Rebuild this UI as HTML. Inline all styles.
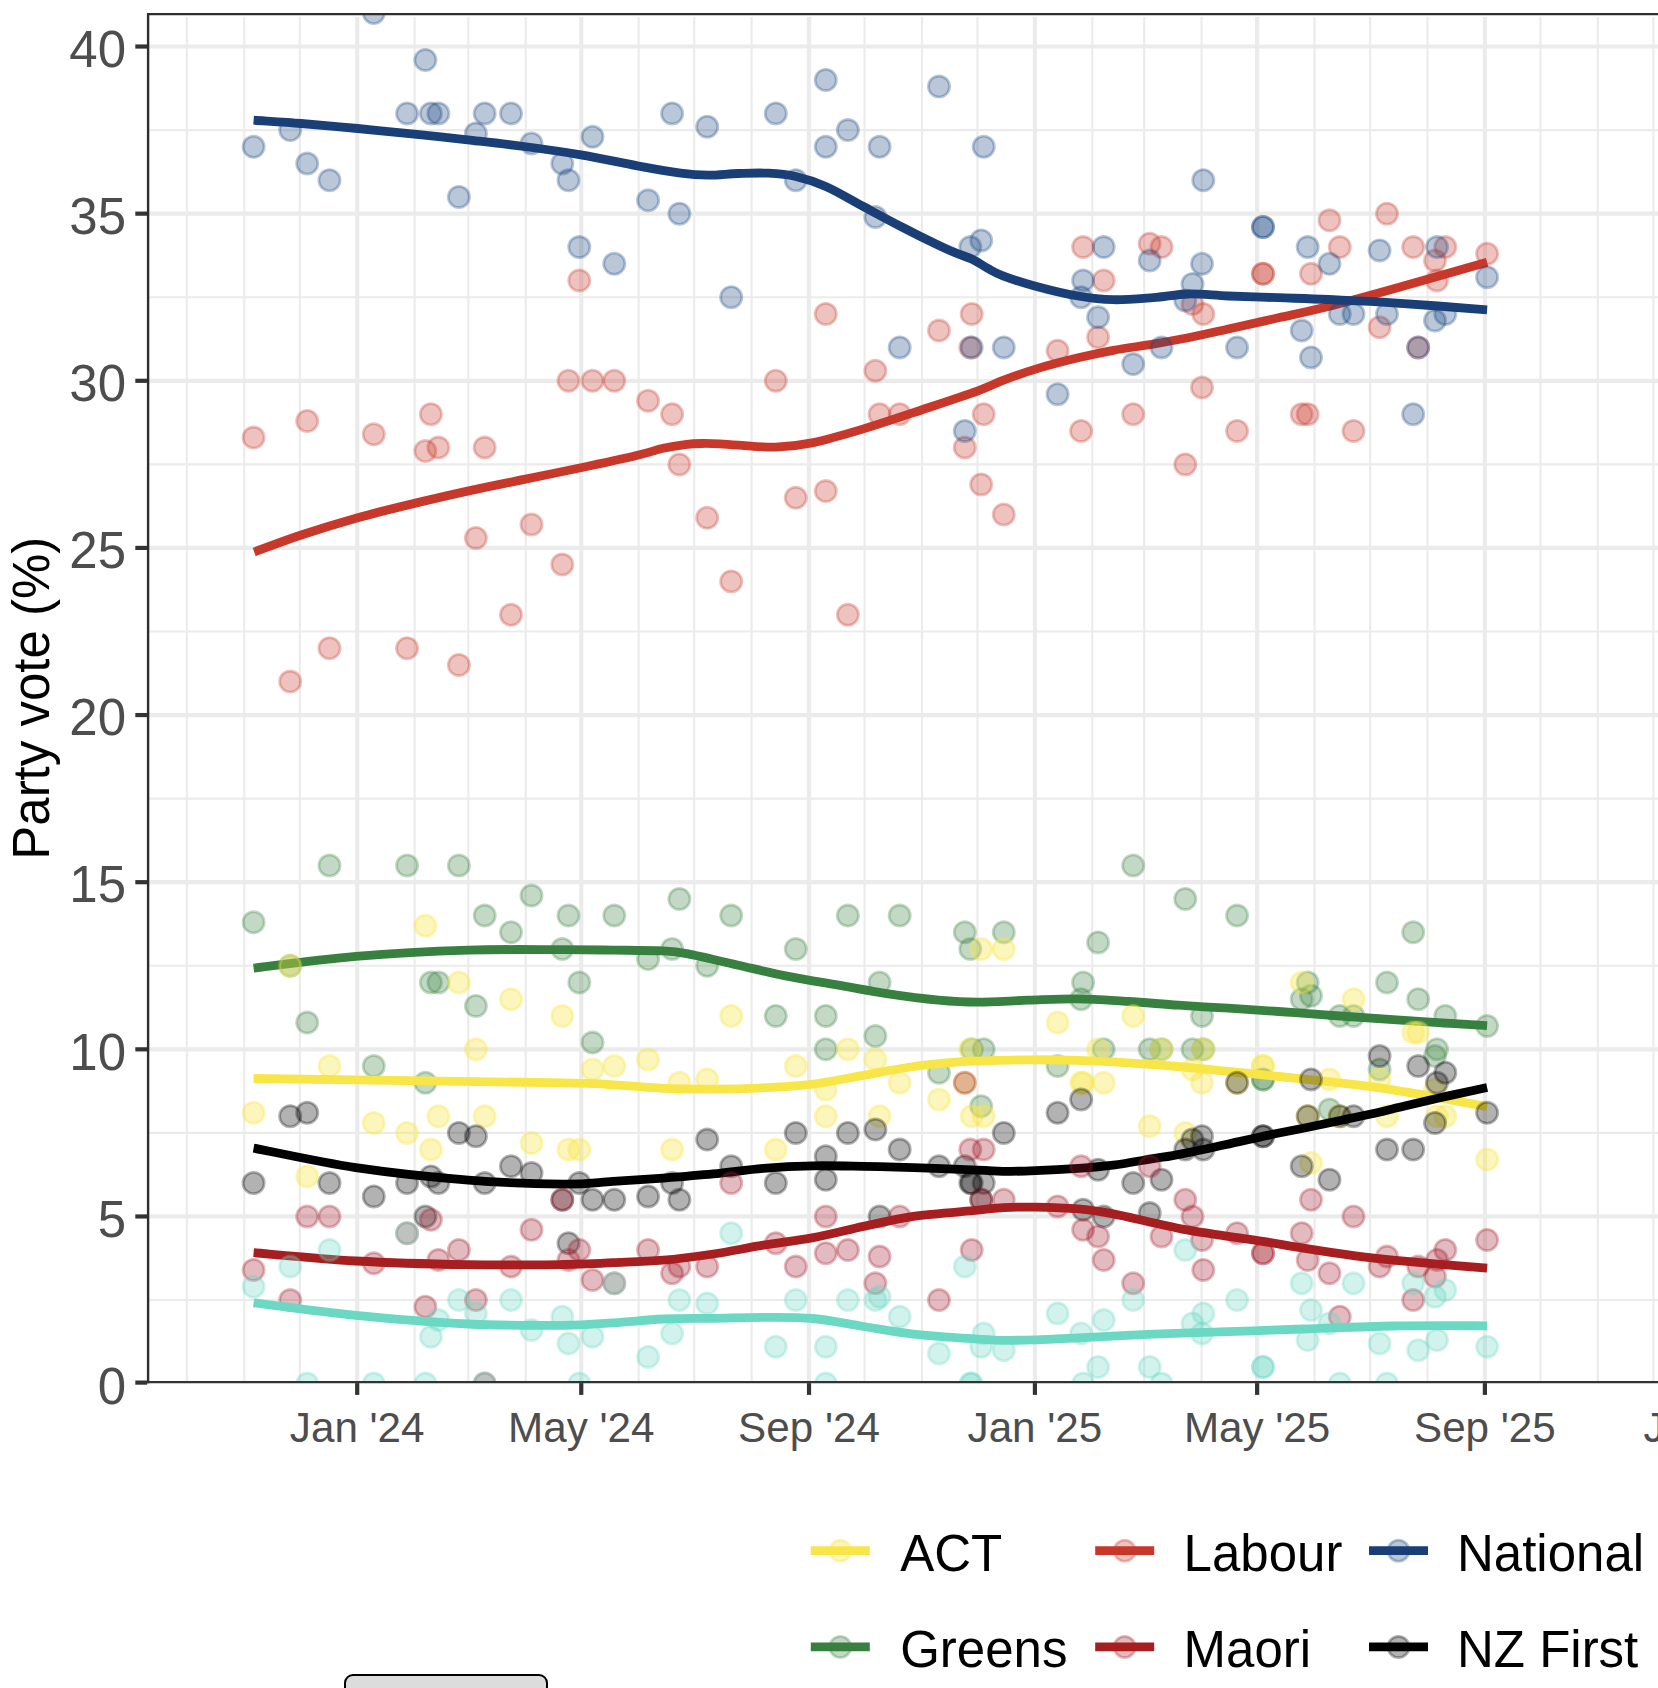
<!DOCTYPE html>
<html lang="en"><head><meta charset="utf-8"><title>Party vote (%)</title>
<style>html,body{margin:0;padding:0;background:#fff}body{width:1658px;height:1688px;overflow:hidden;position:relative}svg{display:block;position:absolute;left:0;top:0}text{font-family:"Liberation Sans",sans-serif}.btn{position:absolute;left:344px;top:1673.6px;width:200px;height:30px;border:2px solid #000;border-radius:9px;background:#dcdcdc}</style></head><body>
<svg width="1658" height="1688" viewBox="0 0 1658 1688">
<rect width="1658" height="1688" fill="#fff"/>
<defs><clipPath id="pc"><rect x="148.1" y="14.1" width="1519.9" height="1368.0"/></clipPath></defs>
<g clip-path="url(#pc)">
<g stroke="#ebebeb" stroke-width="2.1" fill="none">
<path d="M148.1 1300.03H1663"/>
<path d="M148.1 1132.90H1663"/>
<path d="M148.1 965.76H1663"/>
<path d="M148.1 798.63H1663"/>
<path d="M148.1 631.49H1663"/>
<path d="M148.1 464.36H1663"/>
<path d="M148.1 297.22H1663"/>
<path d="M148.1 130.09H1663"/>
<path d="M186.84 16.9V1382.1"/>
<path d="M244.25 16.9V1382.1"/>
<path d="M299.80 16.9V1382.1"/>
<path d="M414.60 16.9V1382.1"/>
<path d="M468.30 16.9V1382.1"/>
<path d="M525.70 16.9V1382.1"/>
<path d="M638.66 16.9V1382.1"/>
<path d="M694.21 16.9V1382.1"/>
<path d="M751.61 16.9V1382.1"/>
<path d="M864.57 16.9V1382.1"/>
<path d="M921.97 16.9V1382.1"/>
<path d="M977.52 16.9V1382.1"/>
<path d="M1092.32 16.9V1382.1"/>
<path d="M1144.17 16.9V1382.1"/>
<path d="M1201.58 16.9V1382.1"/>
<path d="M1314.53 16.9V1382.1"/>
<path d="M1370.08 16.9V1382.1"/>
<path d="M1427.48 16.9V1382.1"/>
<path d="M1540.44 16.9V1382.1"/>
<path d="M1597.84 16.9V1382.1"/>
<path d="M1653.39 16.9V1382.1"/>
</g>
<g stroke="#ebebeb" stroke-width="4.2" fill="none">
<path d="M148.1 1383.60H1663"/>
<path d="M148.1 1216.46H1663"/>
<path d="M148.1 1049.33H1663"/>
<path d="M148.1 882.19H1663"/>
<path d="M148.1 715.06H1663"/>
<path d="M148.1 547.92H1663"/>
<path d="M148.1 380.79H1663"/>
<path d="M148.1 213.65H1663"/>
<path d="M148.1 46.52H1663"/>
<path d="M357.20 16.9V1382.1"/>
<path d="M581.26 16.9V1382.1"/>
<path d="M809.01 16.9V1382.1"/>
<path d="M1034.92 16.9V1382.1"/>
<path d="M1257.13 16.9V1382.1"/>
<path d="M1484.89 16.9V1382.1"/>
<path d="M1710.79 16.9V1382.1"/>
</g>
<g fill="rgba(200,56,42,0.30)" stroke="rgba(200,56,42,0.30)" stroke-width="2.8">
<circle cx="253.6" cy="437.6" r="10.6"/>
<circle cx="290.2" cy="681.6" r="10.6"/>
<circle cx="307.2" cy="420.9" r="10.6"/>
<circle cx="329.5" cy="648.2" r="10.6"/>
<circle cx="373.8" cy="434.3" r="10.6"/>
<circle cx="407.1" cy="648.2" r="10.6"/>
<circle cx="425.4" cy="451.0" r="10.6"/>
<circle cx="430.9" cy="414.2" r="10.6"/>
<circle cx="438.4" cy="447.6" r="10.6"/>
<circle cx="458.9" cy="664.9" r="10.6"/>
<circle cx="475.9" cy="537.9" r="10.6"/>
<circle cx="484.7" cy="447.6" r="10.6"/>
<circle cx="511.0" cy="614.8" r="10.6"/>
<circle cx="531.5" cy="524.5" r="10.6"/>
<circle cx="562.3" cy="564.6" r="10.6"/>
<circle cx="568.5" cy="380.8" r="10.6"/>
<circle cx="579.3" cy="280.5" r="10.6"/>
<circle cx="592.5" cy="380.8" r="10.6"/>
<circle cx="614.3" cy="380.8" r="10.6"/>
<circle cx="648.1" cy="400.8" r="10.6"/>
<circle cx="672.1" cy="414.2" r="10.6"/>
<circle cx="679.4" cy="464.4" r="10.6"/>
<circle cx="707.2" cy="517.8" r="10.6"/>
<circle cx="731.2" cy="581.4" r="10.6"/>
<circle cx="775.8" cy="380.8" r="10.6"/>
<circle cx="795.8" cy="497.8" r="10.6"/>
<circle cx="825.8" cy="313.9" r="10.6"/>
<circle cx="825.8" cy="491.1" r="10.6"/>
<circle cx="847.9" cy="614.8" r="10.6"/>
<circle cx="875.4" cy="370.8" r="10.6"/>
<circle cx="879.6" cy="414.2" r="10.6"/>
<circle cx="899.7" cy="414.2" r="10.6"/>
<circle cx="939.0" cy="330.6" r="10.6"/>
<circle cx="964.8" cy="447.6" r="10.6"/>
<circle cx="970.3" cy="347.4" r="10.6"/>
<circle cx="971.7" cy="313.9" r="10.6"/>
<circle cx="981.2" cy="484.4" r="10.6"/>
<circle cx="983.7" cy="414.2" r="10.6"/>
<circle cx="1003.8" cy="514.5" r="10.6"/>
<circle cx="1057.6" cy="350.7" r="10.6"/>
<circle cx="1081.1" cy="430.9" r="10.6"/>
<circle cx="1083.1" cy="247.1" r="10.6"/>
<circle cx="1098.1" cy="337.3" r="10.6"/>
<circle cx="1103.7" cy="280.5" r="10.6"/>
<circle cx="1133.2" cy="414.2" r="10.6"/>
<circle cx="1149.7" cy="243.7" r="10.6"/>
<circle cx="1161.5" cy="247.1" r="10.6"/>
<circle cx="1185.3" cy="464.4" r="10.6"/>
<circle cx="1192.5" cy="303.9" r="10.6"/>
<circle cx="1202.0" cy="387.5" r="10.6"/>
<circle cx="1203.3" cy="313.9" r="10.6"/>
<circle cx="1237.1" cy="430.9" r="10.6"/>
<circle cx="1263.0" cy="273.8" r="10.6"/>
<circle cx="1263.0" cy="273.8" r="10.6"/>
<circle cx="1301.7" cy="414.2" r="10.6"/>
<circle cx="1307.7" cy="414.2" r="10.6"/>
<circle cx="1311.0" cy="273.8" r="10.6"/>
<circle cx="1329.5" cy="220.3" r="10.6"/>
<circle cx="1339.8" cy="247.1" r="10.6"/>
<circle cx="1353.5" cy="430.9" r="10.6"/>
<circle cx="1379.6" cy="327.3" r="10.6"/>
<circle cx="1387.0" cy="213.7" r="10.6"/>
<circle cx="1413.2" cy="247.1" r="10.6"/>
<circle cx="1418.2" cy="347.4" r="10.6"/>
<circle cx="1435.0" cy="260.5" r="10.6"/>
<circle cx="1437.0" cy="280.5" r="10.6"/>
<circle cx="1445.3" cy="247.1" r="10.6"/>
<circle cx="1487.1" cy="253.8" r="10.6"/>
</g>
<path fill="none" stroke-width="8.8" stroke="rgb(200,56,42)" d="M254.2 552.0C262.0 549.2 283.9 540.7 301.2 535.0C318.4 529.3 338.8 523.0 357.7 517.7C376.6 512.4 396.0 507.8 414.3 503.4C432.6 499.0 449.3 495.1 467.6 491.1C485.9 487.1 505.3 483.3 524.2 479.4C543.1 475.5 561.9 471.8 580.8 467.8C599.7 463.8 623.7 458.6 637.4 455.3C651.1 452.1 655.2 450.1 663.1 448.3C671.0 446.5 678.5 445.4 685.0 444.6C691.5 443.8 696.2 443.6 702.0 443.5C707.8 443.4 714.0 443.6 720.0 443.9C726.0 444.2 728.9 444.6 738.2 445.1C747.5 445.6 763.3 447.5 775.8 447.1C788.3 446.7 798.7 445.6 813.3 442.6C827.9 439.6 846.7 433.9 863.4 428.9C880.1 423.9 894.3 419.0 913.4 412.6C932.5 406.2 963.1 396.2 978.0 390.8C992.9 385.4 993.4 384.0 1003.0 380.4C1012.6 376.8 1023.1 372.9 1035.6 369.1C1048.1 365.3 1065.2 360.9 1078.1 357.8C1091.0 354.7 1100.7 352.6 1113.2 350.3C1125.7 348.0 1140.7 346.2 1153.2 344.1C1165.7 342.0 1175.8 340.3 1188.3 337.8C1200.8 335.3 1213.3 332.3 1228.3 329.0C1243.3 325.7 1261.7 321.6 1278.4 317.8C1295.1 314.1 1309.3 311.3 1328.4 306.5C1347.5 301.7 1366.5 296.4 1393.0 289.0C1419.5 281.6 1471.4 266.7 1487.1 262.2"/>
<g fill="rgba(22,68,128,0.30)" stroke="rgba(22,68,128,0.30)" stroke-width="2.8">
<circle cx="253.6" cy="146.8" r="10.6"/>
<circle cx="290.2" cy="130.1" r="10.6"/>
<circle cx="307.2" cy="163.5" r="10.6"/>
<circle cx="329.5" cy="180.2" r="10.6"/>
<circle cx="373.8" cy="13.1" r="10.6"/>
<circle cx="407.1" cy="113.4" r="10.6"/>
<circle cx="425.4" cy="59.9" r="10.6"/>
<circle cx="430.9" cy="113.4" r="10.6"/>
<circle cx="438.4" cy="113.4" r="10.6"/>
<circle cx="458.9" cy="196.9" r="10.6"/>
<circle cx="475.9" cy="133.4" r="10.6"/>
<circle cx="484.7" cy="113.4" r="10.6"/>
<circle cx="511.0" cy="113.4" r="10.6"/>
<circle cx="531.5" cy="143.5" r="10.6"/>
<circle cx="562.3" cy="163.5" r="10.6"/>
<circle cx="568.5" cy="180.2" r="10.6"/>
<circle cx="579.3" cy="247.1" r="10.6"/>
<circle cx="592.5" cy="136.8" r="10.6"/>
<circle cx="614.3" cy="263.8" r="10.6"/>
<circle cx="648.1" cy="200.3" r="10.6"/>
<circle cx="672.1" cy="113.4" r="10.6"/>
<circle cx="679.4" cy="213.7" r="10.6"/>
<circle cx="707.2" cy="126.7" r="10.6"/>
<circle cx="731.2" cy="297.2" r="10.6"/>
<circle cx="775.8" cy="113.4" r="10.6"/>
<circle cx="795.8" cy="180.2" r="10.6"/>
<circle cx="825.8" cy="79.9" r="10.6"/>
<circle cx="825.8" cy="146.8" r="10.6"/>
<circle cx="847.9" cy="130.1" r="10.6"/>
<circle cx="875.4" cy="217.0" r="10.6"/>
<circle cx="879.6" cy="146.8" r="10.6"/>
<circle cx="899.7" cy="347.4" r="10.6"/>
<circle cx="939.0" cy="86.6" r="10.6"/>
<circle cx="964.8" cy="430.9" r="10.6"/>
<circle cx="970.3" cy="247.1" r="10.6"/>
<circle cx="971.7" cy="347.4" r="10.6"/>
<circle cx="981.2" cy="240.4" r="10.6"/>
<circle cx="983.7" cy="146.8" r="10.6"/>
<circle cx="1003.8" cy="347.4" r="10.6"/>
<circle cx="1057.6" cy="394.2" r="10.6"/>
<circle cx="1081.1" cy="297.2" r="10.6"/>
<circle cx="1083.1" cy="280.5" r="10.6"/>
<circle cx="1098.1" cy="317.3" r="10.6"/>
<circle cx="1103.7" cy="247.1" r="10.6"/>
<circle cx="1133.2" cy="364.1" r="10.6"/>
<circle cx="1149.7" cy="260.5" r="10.6"/>
<circle cx="1161.5" cy="347.4" r="10.6"/>
<circle cx="1185.3" cy="300.6" r="10.6"/>
<circle cx="1192.5" cy="283.9" r="10.6"/>
<circle cx="1202.0" cy="263.8" r="10.6"/>
<circle cx="1203.3" cy="180.2" r="10.6"/>
<circle cx="1237.1" cy="347.4" r="10.6"/>
<circle cx="1263.0" cy="227.0" r="10.6"/>
<circle cx="1263.0" cy="227.0" r="10.6"/>
<circle cx="1301.7" cy="330.6" r="10.6"/>
<circle cx="1307.7" cy="247.1" r="10.6"/>
<circle cx="1311.0" cy="357.4" r="10.6"/>
<circle cx="1329.5" cy="263.8" r="10.6"/>
<circle cx="1339.8" cy="313.9" r="10.6"/>
<circle cx="1353.5" cy="313.9" r="10.6"/>
<circle cx="1379.6" cy="250.4" r="10.6"/>
<circle cx="1387.0" cy="313.9" r="10.6"/>
<circle cx="1413.2" cy="414.2" r="10.6"/>
<circle cx="1418.2" cy="347.4" r="10.6"/>
<circle cx="1435.0" cy="320.6" r="10.6"/>
<circle cx="1437.0" cy="247.1" r="10.6"/>
<circle cx="1445.3" cy="313.9" r="10.6"/>
<circle cx="1487.1" cy="277.2" r="10.6"/>
</g>
<path fill="none" stroke-width="8.8" stroke="rgb(26,63,119)" d="M253.6 120.2C261.5 120.8 283.8 122.1 301.2 123.5C318.6 124.9 338.8 126.7 357.7 128.5C376.6 130.3 396.0 132.3 414.3 134.2C432.6 136.1 449.3 137.8 467.6 139.8C485.9 141.9 505.3 144.0 524.2 146.5C543.1 149.0 561.9 151.6 580.8 154.8C599.7 158.0 620.8 162.8 637.4 165.8C654.0 168.9 668.9 171.5 680.7 173.1C692.5 174.7 698.6 175.1 708.2 175.2C717.8 175.3 728.2 173.8 738.2 173.5C748.2 173.2 758.7 172.7 768.3 173.2C777.9 173.7 786.2 174.3 795.8 176.5C805.4 178.7 814.5 181.5 825.8 186.5C837.1 191.5 850.9 199.8 863.4 206.5C875.9 213.2 888.4 220.0 900.9 226.5C913.4 233.0 929.5 241.0 938.5 245.3C947.5 249.7 949.3 250.2 955.0 252.6C960.7 255.0 967.2 256.9 972.7 259.5C978.2 262.1 982.8 265.7 987.8 268.4C992.8 271.1 994.9 272.8 1002.9 275.8C1010.9 278.8 1023.1 282.8 1035.6 286.2C1048.1 289.6 1065.2 293.8 1078.1 296.0C1091.0 298.2 1100.7 299.4 1113.2 299.7C1125.7 300.0 1140.7 298.6 1153.2 297.7C1165.7 296.8 1175.8 294.3 1188.3 294.0C1200.8 293.7 1213.3 295.4 1228.3 296.0C1243.3 296.6 1261.7 297.1 1278.4 297.7C1295.1 298.3 1309.3 298.6 1328.4 299.5C1347.5 300.4 1366.5 301.1 1393.0 302.8C1419.5 304.5 1471.4 308.6 1487.1 309.8"/>
<g fill="rgba(56,128,63,0.30)" stroke="rgba(56,128,63,0.30)" stroke-width="2.8">
<circle cx="253.6" cy="922.3" r="10.6"/>
<circle cx="290.2" cy="965.8" r="10.6"/>
<circle cx="307.2" cy="1022.6" r="10.6"/>
<circle cx="329.5" cy="865.5" r="10.6"/>
<circle cx="373.8" cy="1066.0" r="10.6"/>
<circle cx="407.1" cy="865.5" r="10.6"/>
<circle cx="425.4" cy="1082.8" r="10.6"/>
<circle cx="430.9" cy="982.5" r="10.6"/>
<circle cx="438.4" cy="982.5" r="10.6"/>
<circle cx="458.9" cy="865.5" r="10.6"/>
<circle cx="475.9" cy="1005.9" r="10.6"/>
<circle cx="484.7" cy="915.6" r="10.6"/>
<circle cx="511.0" cy="932.3" r="10.6"/>
<circle cx="531.5" cy="895.6" r="10.6"/>
<circle cx="562.3" cy="949.0" r="10.6"/>
<circle cx="568.5" cy="915.6" r="10.6"/>
<circle cx="579.3" cy="982.5" r="10.6"/>
<circle cx="592.5" cy="1042.6" r="10.6"/>
<circle cx="614.3" cy="915.6" r="10.6"/>
<circle cx="648.1" cy="959.1" r="10.6"/>
<circle cx="672.1" cy="949.0" r="10.6"/>
<circle cx="679.4" cy="898.9" r="10.6"/>
<circle cx="707.2" cy="965.8" r="10.6"/>
<circle cx="731.2" cy="915.6" r="10.6"/>
<circle cx="775.8" cy="1015.9" r="10.6"/>
<circle cx="795.8" cy="949.0" r="10.6"/>
<circle cx="825.8" cy="1015.9" r="10.6"/>
<circle cx="825.8" cy="1049.3" r="10.6"/>
<circle cx="847.9" cy="915.6" r="10.6"/>
<circle cx="875.4" cy="1036.0" r="10.6"/>
<circle cx="879.6" cy="982.5" r="10.6"/>
<circle cx="899.7" cy="915.6" r="10.6"/>
<circle cx="939.0" cy="1072.7" r="10.6"/>
<circle cx="964.8" cy="932.3" r="10.6"/>
<circle cx="970.3" cy="949.0" r="10.6"/>
<circle cx="971.7" cy="1049.3" r="10.6"/>
<circle cx="981.2" cy="1106.2" r="10.6"/>
<circle cx="983.7" cy="1049.3" r="10.6"/>
<circle cx="1003.8" cy="932.3" r="10.6"/>
<circle cx="1057.6" cy="1066.0" r="10.6"/>
<circle cx="1081.1" cy="999.2" r="10.6"/>
<circle cx="1083.1" cy="982.5" r="10.6"/>
<circle cx="1098.1" cy="942.4" r="10.6"/>
<circle cx="1103.7" cy="1049.3" r="10.6"/>
<circle cx="1133.2" cy="865.5" r="10.6"/>
<circle cx="1149.7" cy="1049.3" r="10.6"/>
<circle cx="1161.5" cy="1049.3" r="10.6"/>
<circle cx="1185.3" cy="898.9" r="10.6"/>
<circle cx="1192.5" cy="1049.3" r="10.6"/>
<circle cx="1202.0" cy="1015.9" r="10.6"/>
<circle cx="1203.3" cy="1049.3" r="10.6"/>
<circle cx="1237.1" cy="915.6" r="10.6"/>
<circle cx="1263.0" cy="1079.4" r="10.6"/>
<circle cx="1263.0" cy="1079.4" r="10.6"/>
<circle cx="1301.7" cy="999.2" r="10.6"/>
<circle cx="1307.7" cy="982.5" r="10.6"/>
<circle cx="1311.0" cy="995.8" r="10.6"/>
<circle cx="1329.5" cy="1109.5" r="10.6"/>
<circle cx="1339.8" cy="1015.9" r="10.6"/>
<circle cx="1353.5" cy="1015.9" r="10.6"/>
<circle cx="1379.6" cy="1069.4" r="10.6"/>
<circle cx="1387.0" cy="982.5" r="10.6"/>
<circle cx="1413.2" cy="932.3" r="10.6"/>
<circle cx="1418.2" cy="999.2" r="10.6"/>
<circle cx="1435.0" cy="1056.0" r="10.6"/>
<circle cx="1437.0" cy="1049.3" r="10.6"/>
<circle cx="1445.3" cy="1015.9" r="10.6"/>
<circle cx="1487.1" cy="1025.9" r="10.6"/>
</g>
<path fill="none" stroke-width="8.8" stroke="rgb(56,128,63)" d="M253.6 968.2C270.6 966.2 320.0 959.4 355.8 956.4C391.6 953.4 433.9 951.2 468.4 950.1C502.9 949.0 538.9 949.7 563.0 949.7C587.1 949.7 596.4 949.9 613.1 950.1C629.8 950.3 650.6 950.3 663.1 950.9C675.6 951.5 675.7 951.5 688.2 953.9C700.7 956.3 721.5 961.5 738.2 965.2C754.9 969.0 771.6 973.1 788.3 976.4C805.0 979.7 821.6 982.3 838.3 985.2C855.0 988.1 871.7 991.4 888.4 993.9C905.1 996.4 923.6 998.8 938.5 1000.2C953.4 1001.6 963.1 1002.2 978.0 1002.2C992.9 1002.2 1011.4 1000.8 1028.1 1000.2C1044.8 999.7 1061.4 998.7 1078.1 998.9C1094.8 999.1 1111.5 1000.5 1128.2 1001.5C1144.9 1002.5 1161.6 1004.1 1178.3 1005.2C1195.0 1006.3 1211.6 1007.2 1228.3 1008.2C1245.0 1009.2 1261.7 1010.3 1278.4 1011.5C1295.1 1012.7 1309.3 1013.8 1328.4 1015.2C1347.5 1016.6 1366.5 1018.0 1393.0 1019.7C1419.5 1021.5 1471.4 1024.7 1487.1 1025.7"/>
<g fill="rgba(248,229,71,0.36)" stroke="rgba(248,229,71,0.36)" stroke-width="2.8">
<circle cx="253.6" cy="1112.8" r="10.6"/>
<circle cx="290.2" cy="965.8" r="10.6"/>
<circle cx="307.2" cy="1176.4" r="10.6"/>
<circle cx="329.5" cy="1066.0" r="10.6"/>
<circle cx="373.8" cy="1122.9" r="10.6"/>
<circle cx="407.1" cy="1132.9" r="10.6"/>
<circle cx="425.4" cy="925.7" r="10.6"/>
<circle cx="430.9" cy="1149.6" r="10.6"/>
<circle cx="438.4" cy="1116.2" r="10.6"/>
<circle cx="458.9" cy="982.5" r="10.6"/>
<circle cx="475.9" cy="1049.3" r="10.6"/>
<circle cx="484.7" cy="1116.2" r="10.6"/>
<circle cx="511.0" cy="999.2" r="10.6"/>
<circle cx="531.5" cy="1142.9" r="10.6"/>
<circle cx="562.3" cy="1015.9" r="10.6"/>
<circle cx="568.5" cy="1149.6" r="10.6"/>
<circle cx="579.3" cy="1149.6" r="10.6"/>
<circle cx="592.5" cy="1069.4" r="10.6"/>
<circle cx="614.3" cy="1066.0" r="10.6"/>
<circle cx="648.1" cy="1059.4" r="10.6"/>
<circle cx="672.1" cy="1149.6" r="10.6"/>
<circle cx="679.4" cy="1082.8" r="10.6"/>
<circle cx="707.2" cy="1079.4" r="10.6"/>
<circle cx="731.2" cy="1015.9" r="10.6"/>
<circle cx="775.8" cy="1149.6" r="10.6"/>
<circle cx="795.8" cy="1066.0" r="10.6"/>
<circle cx="825.8" cy="1089.4" r="10.6"/>
<circle cx="825.8" cy="1116.2" r="10.6"/>
<circle cx="847.9" cy="1049.3" r="10.6"/>
<circle cx="875.4" cy="1059.4" r="10.6"/>
<circle cx="879.6" cy="1116.2" r="10.6"/>
<circle cx="899.7" cy="1082.8" r="10.6"/>
<circle cx="939.0" cy="1099.5" r="10.6"/>
<circle cx="964.8" cy="1082.8" r="10.6"/>
<circle cx="970.3" cy="1049.3" r="10.6"/>
<circle cx="971.7" cy="1116.2" r="10.6"/>
<circle cx="981.2" cy="949.0" r="10.6"/>
<circle cx="983.7" cy="1116.2" r="10.6"/>
<circle cx="1003.8" cy="949.0" r="10.6"/>
<circle cx="1057.6" cy="1022.6" r="10.6"/>
<circle cx="1081.1" cy="1082.8" r="10.6"/>
<circle cx="1083.1" cy="1082.8" r="10.6"/>
<circle cx="1098.1" cy="1049.3" r="10.6"/>
<circle cx="1103.7" cy="1082.8" r="10.6"/>
<circle cx="1133.2" cy="1015.9" r="10.6"/>
<circle cx="1149.7" cy="1126.2" r="10.6"/>
<circle cx="1161.5" cy="1049.3" r="10.6"/>
<circle cx="1185.3" cy="1132.9" r="10.6"/>
<circle cx="1192.5" cy="1069.4" r="10.6"/>
<circle cx="1202.0" cy="1082.8" r="10.6"/>
<circle cx="1203.3" cy="1049.3" r="10.6"/>
<circle cx="1237.1" cy="1082.8" r="10.6"/>
<circle cx="1263.0" cy="1066.0" r="10.6"/>
<circle cx="1263.0" cy="1066.0" r="10.6"/>
<circle cx="1301.7" cy="982.5" r="10.6"/>
<circle cx="1307.7" cy="1116.2" r="10.6"/>
<circle cx="1311.0" cy="1163.0" r="10.6"/>
<circle cx="1329.5" cy="1079.4" r="10.6"/>
<circle cx="1339.8" cy="1116.2" r="10.6"/>
<circle cx="1353.5" cy="999.2" r="10.6"/>
<circle cx="1379.6" cy="1079.4" r="10.6"/>
<circle cx="1387.0" cy="1116.2" r="10.6"/>
<circle cx="1413.2" cy="1032.6" r="10.6"/>
<circle cx="1418.2" cy="1032.6" r="10.6"/>
<circle cx="1435.0" cy="1089.4" r="10.6"/>
<circle cx="1437.0" cy="1116.2" r="10.6"/>
<circle cx="1445.3" cy="1116.2" r="10.6"/>
<circle cx="1487.1" cy="1159.6" r="10.6"/>
</g>
<path fill="none" stroke-width="8.8" stroke="rgb(248,229,71)" d="M253.6 1078.5C305.2 1079.2 503.1 1081.8 563.0 1082.8C622.9 1083.8 596.4 1083.9 613.1 1084.8C629.8 1085.7 646.4 1087.6 663.1 1088.3C679.8 1089.0 696.5 1089.2 713.2 1089.1C729.9 1089.0 746.6 1088.6 763.3 1087.8C780.0 1087.0 796.6 1086.2 813.3 1084.1C830.0 1082.0 846.7 1078.2 863.4 1075.3C880.1 1072.4 896.7 1068.8 913.4 1066.5C930.1 1064.2 952.7 1062.4 963.5 1061.5C974.3 1060.6 967.2 1061.4 978.0 1061.1C988.8 1060.8 1011.4 1059.9 1028.1 1059.8C1044.8 1059.7 1061.4 1059.8 1078.1 1060.3C1094.8 1060.8 1111.5 1061.8 1128.2 1062.8C1144.9 1063.8 1161.6 1065.0 1178.3 1066.5C1195.0 1068.0 1211.6 1069.8 1228.3 1071.5C1245.0 1073.2 1261.7 1074.8 1278.4 1076.5C1295.1 1078.2 1309.3 1079.4 1328.4 1081.6C1347.5 1083.8 1366.5 1085.6 1393.0 1089.8C1419.5 1094.0 1471.4 1103.8 1487.1 1106.6"/>
<g fill="rgba(0,0,0,0.30)" stroke="rgba(0,0,0,0.30)" stroke-width="2.8">
<circle cx="253.6" cy="1183.0" r="10.6"/>
<circle cx="290.2" cy="1116.2" r="10.6"/>
<circle cx="307.2" cy="1112.8" r="10.6"/>
<circle cx="329.5" cy="1183.0" r="10.6"/>
<circle cx="373.8" cy="1196.4" r="10.6"/>
<circle cx="407.1" cy="1183.0" r="10.6"/>
<circle cx="425.4" cy="1216.5" r="10.6"/>
<circle cx="430.9" cy="1176.4" r="10.6"/>
<circle cx="438.4" cy="1183.0" r="10.6"/>
<circle cx="458.9" cy="1132.9" r="10.6"/>
<circle cx="475.9" cy="1136.2" r="10.6"/>
<circle cx="484.7" cy="1183.0" r="10.6"/>
<circle cx="511.0" cy="1166.3" r="10.6"/>
<circle cx="531.5" cy="1173.0" r="10.6"/>
<circle cx="562.3" cy="1199.8" r="10.6"/>
<circle cx="568.5" cy="1243.2" r="10.6"/>
<circle cx="579.3" cy="1183.0" r="10.6"/>
<circle cx="592.5" cy="1199.8" r="10.6"/>
<circle cx="614.3" cy="1199.8" r="10.6"/>
<circle cx="648.1" cy="1196.4" r="10.6"/>
<circle cx="672.1" cy="1183.0" r="10.6"/>
<circle cx="679.4" cy="1199.8" r="10.6"/>
<circle cx="707.2" cy="1139.6" r="10.6"/>
<circle cx="731.2" cy="1166.3" r="10.6"/>
<circle cx="775.8" cy="1183.0" r="10.6"/>
<circle cx="795.8" cy="1132.9" r="10.6"/>
<circle cx="825.8" cy="1156.3" r="10.6"/>
<circle cx="825.8" cy="1179.7" r="10.6"/>
<circle cx="847.9" cy="1132.9" r="10.6"/>
<circle cx="875.4" cy="1129.6" r="10.6"/>
<circle cx="879.6" cy="1216.5" r="10.6"/>
<circle cx="899.7" cy="1149.6" r="10.6"/>
<circle cx="939.0" cy="1166.3" r="10.6"/>
<circle cx="964.8" cy="1166.3" r="10.6"/>
<circle cx="970.3" cy="1183.0" r="10.6"/>
<circle cx="971.7" cy="1183.0" r="10.6"/>
<circle cx="981.2" cy="1199.8" r="10.6"/>
<circle cx="983.7" cy="1183.0" r="10.6"/>
<circle cx="1003.8" cy="1132.9" r="10.6"/>
<circle cx="1057.6" cy="1112.8" r="10.6"/>
<circle cx="1081.1" cy="1099.5" r="10.6"/>
<circle cx="1083.1" cy="1209.8" r="10.6"/>
<circle cx="1098.1" cy="1169.7" r="10.6"/>
<circle cx="1103.7" cy="1216.5" r="10.6"/>
<circle cx="1133.2" cy="1183.0" r="10.6"/>
<circle cx="1149.7" cy="1213.1" r="10.6"/>
<circle cx="1161.5" cy="1179.7" r="10.6"/>
<circle cx="1185.3" cy="1149.6" r="10.6"/>
<circle cx="1192.5" cy="1139.6" r="10.6"/>
<circle cx="1202.0" cy="1136.2" r="10.6"/>
<circle cx="1203.3" cy="1149.6" r="10.6"/>
<circle cx="1237.1" cy="1082.8" r="10.6"/>
<circle cx="1263.0" cy="1136.2" r="10.6"/>
<circle cx="1263.0" cy="1136.2" r="10.6"/>
<circle cx="1301.7" cy="1166.3" r="10.6"/>
<circle cx="1307.7" cy="1116.2" r="10.6"/>
<circle cx="1311.0" cy="1079.4" r="10.6"/>
<circle cx="1329.5" cy="1179.7" r="10.6"/>
<circle cx="1339.8" cy="1116.2" r="10.6"/>
<circle cx="1353.5" cy="1116.2" r="10.6"/>
<circle cx="1379.6" cy="1056.0" r="10.6"/>
<circle cx="1387.0" cy="1149.6" r="10.6"/>
<circle cx="1413.2" cy="1149.6" r="10.6"/>
<circle cx="1418.2" cy="1066.0" r="10.6"/>
<circle cx="1435.0" cy="1122.9" r="10.6"/>
<circle cx="1437.0" cy="1082.8" r="10.6"/>
<circle cx="1445.3" cy="1072.7" r="10.6"/>
<circle cx="1487.1" cy="1112.8" r="10.6"/>
</g>
<path fill="none" stroke-width="8.8" stroke="rgb(0,0,0)" d="M253.6 1148.1C270.6 1151.3 320.0 1162.3 355.8 1167.6C391.6 1172.9 433.9 1177.3 468.4 1180.1C502.9 1182.8 538.9 1183.9 563.0 1184.1C587.1 1184.3 596.4 1182.4 613.1 1181.4C629.8 1180.4 646.4 1179.3 663.1 1178.1C679.8 1176.8 696.5 1175.5 713.2 1173.9C729.9 1172.3 746.6 1169.7 763.3 1168.3C780.0 1166.9 796.6 1166.1 813.3 1165.8C830.0 1165.5 846.7 1166.0 863.4 1166.3C880.1 1166.6 894.3 1167.0 913.4 1167.6C932.5 1168.2 963.1 1169.5 978.0 1170.1C992.9 1170.7 993.4 1171.3 1003.0 1171.4C1012.6 1171.5 1023.1 1171.1 1035.6 1170.6C1048.1 1170.1 1065.2 1169.2 1078.1 1168.3C1091.0 1167.4 1100.7 1166.7 1113.2 1165.1C1125.7 1163.5 1143.3 1160.2 1153.2 1158.6C1163.1 1157.0 1163.8 1157.2 1172.6 1155.6C1181.4 1154.0 1194.8 1151.3 1205.9 1149.0C1217.0 1146.7 1228.1 1144.0 1239.2 1141.6C1250.3 1139.1 1261.4 1136.6 1272.5 1134.3C1283.6 1132.0 1294.7 1130.0 1305.8 1127.7C1316.9 1125.4 1328.0 1123.0 1339.1 1120.7C1350.2 1118.4 1361.2 1116.2 1372.3 1113.7C1383.4 1111.2 1394.5 1108.3 1405.6 1105.7C1416.7 1103.1 1427.8 1100.5 1438.9 1098.0C1450.0 1095.5 1464.2 1092.5 1472.2 1090.7C1480.2 1089.0 1484.6 1088.0 1487.1 1087.5"/>
<g fill="rgba(162,26,44,0.30)" stroke="rgba(162,26,44,0.30)" stroke-width="2.8">
<circle cx="253.6" cy="1269.9" r="10.6"/>
<circle cx="290.2" cy="1300.0" r="10.6"/>
<circle cx="307.2" cy="1216.5" r="10.6"/>
<circle cx="329.5" cy="1216.5" r="10.6"/>
<circle cx="373.8" cy="1263.3" r="10.6"/>
<circle cx="407.1" cy="1233.2" r="10.6"/>
<circle cx="425.4" cy="1306.7" r="10.6"/>
<circle cx="430.9" cy="1219.8" r="10.6"/>
<circle cx="438.4" cy="1259.9" r="10.6"/>
<circle cx="458.9" cy="1249.9" r="10.6"/>
<circle cx="475.9" cy="1300.0" r="10.6"/>
<circle cx="484.7" cy="1383.6" r="10.6"/>
<circle cx="511.0" cy="1266.6" r="10.6"/>
<circle cx="531.5" cy="1229.8" r="10.6"/>
<circle cx="562.3" cy="1199.8" r="10.6"/>
<circle cx="568.5" cy="1259.9" r="10.6"/>
<circle cx="579.3" cy="1249.9" r="10.6"/>
<circle cx="592.5" cy="1280.0" r="10.6"/>
<circle cx="614.3" cy="1283.3" r="10.6"/>
<circle cx="648.1" cy="1249.9" r="10.6"/>
<circle cx="672.1" cy="1273.3" r="10.6"/>
<circle cx="679.4" cy="1266.6" r="10.6"/>
<circle cx="707.2" cy="1266.6" r="10.6"/>
<circle cx="731.2" cy="1183.0" r="10.6"/>
<circle cx="775.8" cy="1243.2" r="10.6"/>
<circle cx="795.8" cy="1266.6" r="10.6"/>
<circle cx="825.8" cy="1216.5" r="10.6"/>
<circle cx="825.8" cy="1253.2" r="10.6"/>
<circle cx="847.9" cy="1249.9" r="10.6"/>
<circle cx="875.4" cy="1283.3" r="10.6"/>
<circle cx="879.6" cy="1256.6" r="10.6"/>
<circle cx="899.7" cy="1216.5" r="10.6"/>
<circle cx="939.0" cy="1300.0" r="10.6"/>
<circle cx="964.8" cy="1082.8" r="10.6"/>
<circle cx="970.3" cy="1149.6" r="10.6"/>
<circle cx="971.7" cy="1249.9" r="10.6"/>
<circle cx="981.2" cy="1199.8" r="10.6"/>
<circle cx="983.7" cy="1149.6" r="10.6"/>
<circle cx="1003.8" cy="1199.8" r="10.6"/>
<circle cx="1057.6" cy="1206.4" r="10.6"/>
<circle cx="1081.1" cy="1166.3" r="10.6"/>
<circle cx="1083.1" cy="1229.8" r="10.6"/>
<circle cx="1098.1" cy="1236.5" r="10.6"/>
<circle cx="1103.7" cy="1259.9" r="10.6"/>
<circle cx="1133.2" cy="1283.3" r="10.6"/>
<circle cx="1149.7" cy="1166.3" r="10.6"/>
<circle cx="1161.5" cy="1236.5" r="10.6"/>
<circle cx="1185.3" cy="1199.8" r="10.6"/>
<circle cx="1192.5" cy="1216.5" r="10.6"/>
<circle cx="1202.0" cy="1239.9" r="10.6"/>
<circle cx="1203.3" cy="1269.9" r="10.6"/>
<circle cx="1237.1" cy="1233.2" r="10.6"/>
<circle cx="1263.0" cy="1253.2" r="10.6"/>
<circle cx="1263.0" cy="1253.2" r="10.6"/>
<circle cx="1301.7" cy="1233.2" r="10.6"/>
<circle cx="1307.7" cy="1259.9" r="10.6"/>
<circle cx="1311.0" cy="1199.8" r="10.6"/>
<circle cx="1329.5" cy="1273.3" r="10.6"/>
<circle cx="1339.8" cy="1316.7" r="10.6"/>
<circle cx="1353.5" cy="1216.5" r="10.6"/>
<circle cx="1379.6" cy="1266.6" r="10.6"/>
<circle cx="1387.0" cy="1256.6" r="10.6"/>
<circle cx="1413.2" cy="1300.0" r="10.6"/>
<circle cx="1418.2" cy="1266.6" r="10.6"/>
<circle cx="1435.0" cy="1276.6" r="10.6"/>
<circle cx="1437.0" cy="1259.9" r="10.6"/>
<circle cx="1445.3" cy="1249.9" r="10.6"/>
<circle cx="1487.1" cy="1239.9" r="10.6"/>
</g>
<path fill="none" stroke-width="8.8" stroke="rgb(166,30,31)" d="M253.6 1252.7C270.6 1254.1 320.0 1259.0 355.8 1261.0C391.6 1263.0 433.9 1264.1 468.4 1264.7C502.9 1265.3 538.9 1264.8 563.0 1264.5C587.1 1264.2 596.4 1263.4 613.1 1262.7C629.8 1262.0 646.4 1261.7 663.1 1260.2C679.8 1258.8 696.5 1256.5 713.2 1254.0C729.9 1251.5 746.6 1247.9 763.3 1245.2C780.0 1242.5 796.6 1240.8 813.3 1237.7C830.0 1234.6 846.7 1230.0 863.4 1226.4C880.1 1222.9 894.3 1219.1 913.4 1216.4C932.5 1213.7 963.1 1211.7 978.0 1210.2C992.9 1208.7 993.4 1208.1 1003.0 1207.6C1012.6 1207.1 1023.1 1206.9 1035.6 1207.1C1048.1 1207.3 1065.2 1207.8 1078.1 1208.9C1091.0 1210.0 1100.7 1211.6 1113.2 1213.9C1125.7 1216.2 1140.7 1220.0 1153.2 1222.7C1165.7 1225.4 1175.8 1227.9 1188.3 1230.2C1200.8 1232.5 1215.9 1234.5 1228.3 1236.4C1240.7 1238.3 1250.4 1239.4 1262.9 1241.4C1275.4 1243.4 1288.3 1245.8 1303.4 1248.2C1318.5 1250.6 1338.6 1253.7 1353.5 1255.7C1368.4 1257.7 1370.7 1258.1 1393.0 1260.2C1415.3 1262.3 1471.4 1266.9 1487.1 1268.2"/>
<g fill="rgba(107,216,196,0.30)" stroke="rgba(107,216,196,0.30)" stroke-width="2.8">
<circle cx="253.6" cy="1286.7" r="10.6"/>
<circle cx="290.2" cy="1266.6" r="10.6"/>
<circle cx="307.2" cy="1383.6" r="10.6"/>
<circle cx="329.5" cy="1249.9" r="10.6"/>
<circle cx="373.8" cy="1383.6" r="10.6"/>
<circle cx="407.1" cy="1233.2" r="10.6"/>
<circle cx="425.4" cy="1383.6" r="10.6"/>
<circle cx="430.9" cy="1336.8" r="10.6"/>
<circle cx="438.4" cy="1320.1" r="10.6"/>
<circle cx="458.9" cy="1300.0" r="10.6"/>
<circle cx="475.9" cy="1313.4" r="10.6"/>
<circle cx="484.7" cy="1383.6" r="10.6"/>
<circle cx="511.0" cy="1300.0" r="10.6"/>
<circle cx="531.5" cy="1330.1" r="10.6"/>
<circle cx="562.3" cy="1316.7" r="10.6"/>
<circle cx="568.5" cy="1343.5" r="10.6"/>
<circle cx="579.3" cy="1383.6" r="10.6"/>
<circle cx="592.5" cy="1336.8" r="10.6"/>
<circle cx="614.3" cy="1283.3" r="10.6"/>
<circle cx="648.1" cy="1356.9" r="10.6"/>
<circle cx="672.1" cy="1333.5" r="10.6"/>
<circle cx="679.4" cy="1300.0" r="10.6"/>
<circle cx="707.2" cy="1303.4" r="10.6"/>
<circle cx="731.2" cy="1233.2" r="10.6"/>
<circle cx="775.8" cy="1346.8" r="10.6"/>
<circle cx="795.8" cy="1300.0" r="10.6"/>
<circle cx="825.8" cy="1346.8" r="10.6"/>
<circle cx="825.8" cy="1383.6" r="10.6"/>
<circle cx="847.9" cy="1300.0" r="10.6"/>
<circle cx="875.4" cy="1300.0" r="10.6"/>
<circle cx="879.6" cy="1296.7" r="10.6"/>
<circle cx="899.7" cy="1316.7" r="10.6"/>
<circle cx="939.0" cy="1353.5" r="10.6"/>
<circle cx="964.8" cy="1266.6" r="10.6"/>
<circle cx="970.3" cy="1383.6" r="10.6"/>
<circle cx="971.7" cy="1383.6" r="10.6"/>
<circle cx="981.2" cy="1346.8" r="10.6"/>
<circle cx="983.7" cy="1333.5" r="10.6"/>
<circle cx="1003.8" cy="1350.2" r="10.6"/>
<circle cx="1057.6" cy="1313.4" r="10.6"/>
<circle cx="1081.1" cy="1333.5" r="10.6"/>
<circle cx="1083.1" cy="1383.6" r="10.6"/>
<circle cx="1098.1" cy="1366.9" r="10.6"/>
<circle cx="1103.7" cy="1320.1" r="10.6"/>
<circle cx="1133.2" cy="1300.0" r="10.6"/>
<circle cx="1149.7" cy="1366.9" r="10.6"/>
<circle cx="1161.5" cy="1383.6" r="10.6"/>
<circle cx="1185.3" cy="1249.9" r="10.6"/>
<circle cx="1192.5" cy="1323.4" r="10.6"/>
<circle cx="1202.0" cy="1333.5" r="10.6"/>
<circle cx="1203.3" cy="1313.4" r="10.6"/>
<circle cx="1237.1" cy="1300.0" r="10.6"/>
<circle cx="1263.0" cy="1366.9" r="10.6"/>
<circle cx="1263.0" cy="1366.9" r="10.6"/>
<circle cx="1301.7" cy="1283.3" r="10.6"/>
<circle cx="1307.7" cy="1340.1" r="10.6"/>
<circle cx="1311.0" cy="1310.1" r="10.6"/>
<circle cx="1329.5" cy="1323.4" r="10.6"/>
<circle cx="1339.8" cy="1383.6" r="10.6"/>
<circle cx="1353.5" cy="1283.3" r="10.6"/>
<circle cx="1379.6" cy="1343.5" r="10.6"/>
<circle cx="1387.0" cy="1383.6" r="10.6"/>
<circle cx="1413.2" cy="1283.3" r="10.6"/>
<circle cx="1418.2" cy="1350.2" r="10.6"/>
<circle cx="1435.0" cy="1296.7" r="10.6"/>
<circle cx="1437.0" cy="1340.1" r="10.6"/>
<circle cx="1445.3" cy="1290.0" r="10.6"/>
<circle cx="1487.1" cy="1346.8" r="10.6"/>
</g>
<path fill="none" stroke-width="8.8" stroke="rgb(107,216,196)" d="M253.6 1302.8C270.6 1304.9 320.0 1311.8 355.8 1315.3C391.6 1318.8 433.9 1322.3 468.4 1324.0C502.9 1325.7 538.9 1325.5 563.0 1325.3C587.1 1325.1 596.4 1323.8 613.1 1322.8C629.8 1321.8 646.4 1319.8 663.1 1319.0C679.8 1318.2 696.5 1318.6 713.2 1318.3C729.9 1318.0 746.6 1317.3 763.3 1317.3C780.0 1317.3 796.6 1317.0 813.3 1318.5C830.0 1320.0 846.7 1323.9 863.4 1326.5C880.1 1329.1 894.3 1332.0 913.4 1334.1C932.5 1336.2 963.1 1338.1 978.0 1339.1C992.9 1340.1 993.4 1340.2 1003.0 1340.3C1012.6 1340.4 1023.1 1340.2 1035.6 1339.8C1048.1 1339.4 1058.5 1338.8 1078.1 1337.8C1097.7 1336.8 1128.2 1335.1 1153.2 1334.1C1178.2 1333.1 1203.3 1332.4 1228.3 1331.6C1253.3 1330.8 1276.0 1329.9 1303.4 1329.0C1330.9 1328.1 1362.4 1326.5 1393.0 1326.0C1423.6 1325.5 1471.4 1325.8 1487.1 1325.8"/>
</g>
<path d="M148.1 1383.2V14.1H1663" fill="none" stroke="#2e2e2e" stroke-width="2.4"/>
<path d="M147.0 1382.1H1663" fill="none" stroke="#333" stroke-width="2.4"/>
<g stroke="#333" stroke-width="4.2" fill="none">
<path d="M135.3 1382.60H147.1"/>
<path d="M135.3 1216.46H147.1"/>
<path d="M135.3 1049.33H147.1"/>
<path d="M135.3 882.19H147.1"/>
<path d="M135.3 715.06H147.1"/>
<path d="M135.3 547.92H147.1"/>
<path d="M135.3 380.79H147.1"/>
<path d="M135.3 213.65H147.1"/>
<path d="M135.3 46.52H147.1"/>
<path d="M357.20 1383.1V1394.9"/>
<path d="M581.26 1383.1V1394.9"/>
<path d="M809.01 1383.1V1394.9"/>
<path d="M1034.92 1383.1V1394.9"/>
<path d="M1257.13 1383.1V1394.9"/>
<path d="M1484.89 1383.1V1394.9"/>
<path d="M1710.79 1383.1V1394.9"/>
</g>
<g fill="#4d4d4d" font-size="51" text-anchor="end">
<text x="126" y="1403.8">0</text>
<text x="126" y="1236.7">5</text>
<text x="126" y="1069.5">10</text>
<text x="126" y="902.4">15</text>
<text x="126" y="735.3">20</text>
<text x="126" y="568.1">25</text>
<text x="126" y="401.0">30</text>
<text x="126" y="233.9">35</text>
<text x="126" y="66.7">40</text>
</g>
<g fill="#4d4d4d" font-size="42.2" text-anchor="middle">
<text x="357.2" y="1442.1">Jan '24</text>
<text x="581.3" y="1442.1">May '24</text>
<text x="809.0" y="1442.1">Sep '24</text>
<text x="1034.9" y="1442.1">Jan '25</text>
<text x="1257.1" y="1442.1">May '25</text>
<text x="1484.9" y="1442.1">Sep '25</text>
<text x="1710.8" y="1442.1">Jan '26</text>
</g>
<text transform="translate(49 698.2) rotate(-90)" text-anchor="middle" font-size="51" fill="#000">Party vote (%)</text>
<circle cx="840.3" cy="1550.7" r="10.6" fill="rgba(248,229,71,0.36)" stroke="rgba(248,229,71,0.36)" stroke-width="2.8"/>
<path d="M810.8 1550.7h59" stroke="rgb(248,229,71)" stroke-width="8.8" fill="none"/>
<text x="900.2" y="1571.2" font-size="51" fill="#000">ACT</text>
<circle cx="1124.7" cy="1550.7" r="10.6" fill="rgba(200,56,42,0.30)" stroke="rgba(200,56,42,0.30)" stroke-width="2.8"/>
<path d="M1095.2 1550.7h59" stroke="rgb(200,56,42)" stroke-width="8.8" fill="none"/>
<text x="1183.6" y="1571.2" font-size="51" fill="#000">Labour</text>
<circle cx="1398.5" cy="1550.7" r="10.6" fill="rgba(22,68,128,0.30)" stroke="rgba(22,68,128,0.30)" stroke-width="2.8"/>
<path d="M1369.0 1550.7h59" stroke="rgb(26,63,119)" stroke-width="8.8" fill="none"/>
<text x="1457.0" y="1571.2" font-size="51" fill="#000">National</text>
<circle cx="840.3" cy="1646.9" r="10.6" fill="rgba(56,128,63,0.30)" stroke="rgba(56,128,63,0.30)" stroke-width="2.8"/>
<path d="M810.8 1646.9h59" stroke="rgb(56,128,63)" stroke-width="8.8" fill="none"/>
<text x="900.2" y="1667.2" font-size="51" fill="#000">Greens</text>
<circle cx="1124.7" cy="1646.9" r="10.6" fill="rgba(162,26,44,0.30)" stroke="rgba(162,26,44,0.30)" stroke-width="2.8"/>
<path d="M1095.2 1646.9h59" stroke="rgb(166,30,31)" stroke-width="8.8" fill="none"/>
<text x="1183.6" y="1667.2" font-size="51" fill="#000">Maori</text>
<circle cx="1398.5" cy="1646.9" r="10.6" fill="rgba(0,0,0,0.30)" stroke="rgba(0,0,0,0.30)" stroke-width="2.8"/>
<path d="M1369.0 1646.9h59" stroke="rgb(0,0,0)" stroke-width="8.8" fill="none"/>
<text x="1457.0" y="1667.2" font-size="51" fill="#000">NZ First</text>
</svg>
<div class="btn"></div>
</body></html>
